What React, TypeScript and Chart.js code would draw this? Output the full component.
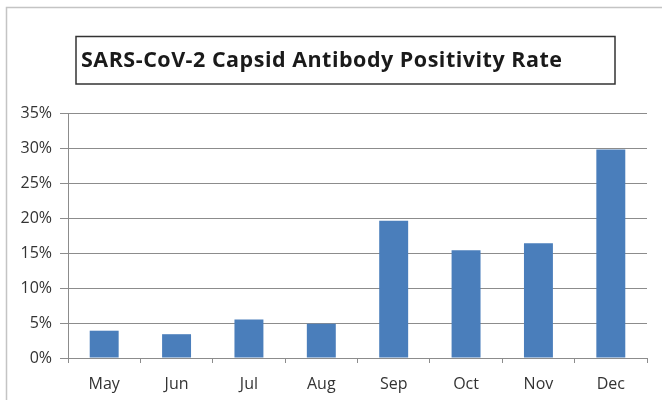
import React, { useEffect, useRef } from 'react';
import { Chart, registerables } from 'chart.js';

Chart.register(...registerables);

const months = ['May', 'Jun', 'Jul', 'Aug', 'Sep', 'Oct', 'Nov', 'Dec'];
const positivityRate = [3.9, 3.4, 5.5, 4.9, 19.6, 15.4, 16.4, 29.8];
const yTickValues = [0, 5, 10, 15, 20, 25, 30, 35];
const chartTitle = 'SARS-CoV-2 Capsid Antibody Positivity Rate';

const framePlugin = {
  id: 'frame',
  beforeDraw(chart: any) {
    const { ctx } = chart;
    ctx.save();
    ctx.fillStyle = '#ffffff';
    ctx.fillRect(0, 0, chart.width, chart.height);
    ctx.strokeStyle = '#c4c4c4';
    ctx.lineWidth = 1.5;
    ctx.beginPath();
    ctx.moveTo(6.5, chart.height);
    ctx.lineTo(6.5, 7.5);
    ctx.lineTo(chart.width, 7.5);
    ctx.stroke();
    ctx.strokeStyle = '#333333';
    ctx.lineWidth = 1.5;
    ctx.strokeRect(76, 36.5, 539, 47.5);
    ctx.fillStyle = '#1a1a1a';
    ctx.font = 'bold 21.5px "Open Sans"';
    (ctx as any).letterSpacing = '0.5px';
    ctx.textBaseline = 'middle';
    ctx.textAlign = 'left';
    ctx.fillText(chartTitle, 81, 61);
    (ctx as any).letterSpacing = '0px';
    ctx.restore();
  },
};

export default function App() {
  const ref = useRef<HTMLCanvasElement | null>(null);
  useEffect(() => {
    if (!ref.current) return;
    const tickFont = { family: '"Open Sans"', size: 16 };
    const chart = new Chart(ref.current, {
      type: 'bar',
      data: {
        labels: months,
        datasets: [
          {
            data: positivityRate,
            backgroundColor: '#4a7ebb',
            borderWidth: 0,
            barPercentage: 0.4,
            categoryPercentage: 1,
          },
        ],
      },
      options: {
        responsive: false,
        animation: false,
        layout: { padding: { top: 113, right: 15, left: 0, bottom: 0 } },
        plugins: { legend: { display: false }, tooltip: { enabled: false }, title: { display: false } },
        scales: {
          x: {
            offset: true,
            grid: { display: true, drawOnChartArea: false, drawTicks: true, tickLength: 5, color: '#8c8c8c', offset: true },
            border: { display: true, color: '#8c8c8c' },
            ticks: { font: tickFont, color: '#333333', padding: 12 },
            afterFit: (s: any) => { s.height = 42; },
          },
          y: {
            min: 0,
            max: 35,
            afterBuildTicks: (s: any) => { s.ticks = yTickValues.map((v) => ({ value: v })); },
            ticks: { font: tickFont, color: '#333333', padding: 8, callback: (v: any) => v + '%' },
            grid: { color: '#8c8c8c', tickLength: 8 },
            border: { display: true, color: '#8c8c8c' },
            afterFit: (s: any) => { s.width = 68; },
          },
        },
      },
      plugins: [framePlugin],
    });
    return () => chart.destroy();
  }, []);
  return (
    <div style={{ position: 'absolute', left: 0, top: 0, width: 662, height: 400 }}>
      <canvas ref={ref} width={662} height={400} />
    </div>
  );
}
